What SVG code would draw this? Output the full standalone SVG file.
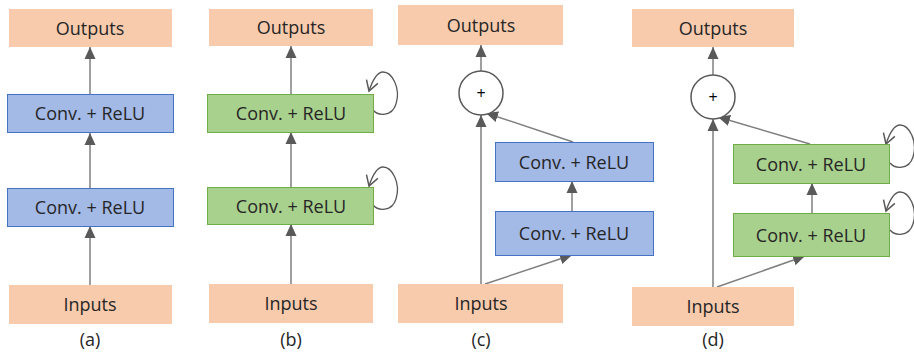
<svg xmlns="http://www.w3.org/2000/svg" width="914" height="356" viewBox="0 0 914 356">
<defs>
<marker id="ah" markerUnits="userSpaceOnUse" markerWidth="12" markerHeight="12" viewBox="0 0 12 12" refX="12" refY="6" orient="auto">
<path d="M0,0.5 L12,6 L0,11.5 z" fill="#595959"/>
</marker>
<marker id="av" markerUnits="userSpaceOnUse" markerWidth="14" markerHeight="14" viewBox="0 0 14 14" refX="12" refY="7" orient="auto">
<path d="M2,1 L12,7 L2,13" fill="none" stroke="#595959" stroke-width="1.5"/>
</marker>
</defs>
<style>
.io{fill:#F8CBAD;stroke:none}
.blue{fill:#A3B9E6;stroke:#4472C4;stroke-width:1}
.green{fill:#A9D18E;stroke:#70AD47;stroke-width:1}
.sum{fill:#fff;stroke:#595959;stroke-width:1.5}
text{font-family:"Open Sans","Liberation Sans",sans-serif;font-size:18px;fill:#262626;text-anchor:middle}
.plus{font-size:16px;fill:#000}
.c{fill:none;stroke:#7F7F7F;stroke-width:1.5;marker-end:url(#ah)}
.loop{fill:none;stroke:#595959;stroke-width:1.3;marker-end:url(#av)}
</style>
<rect width="914" height="356" fill="#fff"/>
<g id="connectors">
<line class="c" x1="90" y1="285" x2="90" y2="226"/>
<line class="c" x1="90" y1="188" x2="90" y2="133"/>
<line class="c" x1="90" y1="94" x2="90" y2="47"/>
<line class="c" x1="291" y1="284" x2="291" y2="224"/>
<line class="c" x1="291" y1="187" x2="291" y2="132"/>
<line class="c" x1="291" y1="94" x2="291" y2="46"/>
<path class="loop" d="M373,110 C378,116 392,117 396,104 C401,88 392,72 383,72 C376,72 372,82 369,91"/>
<path class="loop" d="M373,110 C378,116 392,117 396,104 C401,88 392,72 383,72 C376,72 372,82 369,91" transform="translate(0,95)"/>
<line class="c" x1="481" y1="284" x2="481" y2="115"/>
<line class="c" x1="485" y1="284" x2="572" y2="255"/>
<line class="c" x1="572" y1="211" x2="572" y2="181"/>
<line class="c" x1="573" y1="142" x2="486" y2="113"/>
<line class="c" x1="481" y1="71" x2="481" y2="45"/>
<line class="c" x1="713" y1="287" x2="713" y2="119"/>
<line class="c" x1="717" y1="287" x2="805" y2="256"/>
<line class="c" x1="812" y1="213" x2="812" y2="183"/>
<line class="c" x1="810" y1="144" x2="718" y2="117"/>
<line class="c" x1="713" y1="75" x2="713" y2="47"/>
<path class="loop" d="M373,110 C378,116 392,117 396,104 C401,88 392,72 383,72 C376,72 372,82 369,91" transform="translate(517,53)"/>
<path class="loop" d="M373,110 C378,116 392,117 396,104 C401,88 392,72 383,72 C376,72 372,82 369,91" transform="translate(517,120)"/>
</g>
<g id="a-outputs"><rect class="io" x="9" y="9" width="163" height="38"/><text x="90" y="34.5">Outputs</text></g>
<g id="a-conv1"><rect class="blue" x="7.5" y="94.5" width="166" height="38"/><text x="90" y="120">Conv. + ReLU</text></g>
<g id="a-conv2"><rect class="blue" x="7.5" y="188.5" width="166" height="38"/><text x="90" y="214">Conv. + ReLU</text></g>
<g id="a-inputs"><rect class="io" x="9" y="285" width="163" height="39"/><text x="90" y="311">Inputs</text></g>
<g id="a-label"><text x="90" y="346">(a)</text></g>
<g id="b-outputs"><rect class="io" x="209" y="9" width="164" height="37"/><text x="291" y="34">Outputs</text></g>
<g id="b-conv1"><rect class="green" x="207.5" y="94.5" width="166" height="38"/><text x="291" y="120">Conv. + ReLU</text></g>
<g id="b-conv2"><rect class="green" x="207.5" y="187.5" width="166" height="37"/><text x="291" y="212.5">Conv. + ReLU</text></g>
<g id="b-inputs"><rect class="io" x="209" y="284" width="164" height="39"/><text x="291" y="310">Inputs</text></g>
<g id="b-label"><text x="291" y="346">(b)</text></g>
<g id="c-outputs"><rect class="io" x="398" y="5" width="165" height="40"/><text x="481" y="31.5">Outputs</text></g>
<g id="c-sum"><circle class="sum" cx="481" cy="93" r="22"/><text class="plus" x="481" y="98.5">+</text></g>
<g id="c-conv1"><rect class="blue" x="495.5" y="142.5" width="158" height="39"/><text x="574" y="168.5">Conv. + ReLU</text></g>
<g id="c-conv2"><rect class="blue" x="495.5" y="211.5" width="158" height="44"/><text x="574" y="240">Conv. + ReLU</text></g>
<g id="c-inputs"><rect class="io" x="398" y="284" width="165" height="39"/><text x="481" y="310">Inputs</text></g>
<g id="c-label"><text x="481" y="346">(c)</text></g>
<g id="d-outputs"><rect class="io" x="632" y="9" width="162" height="38"/><text x="713" y="34.5">Outputs</text></g>
<g id="d-sum"><circle class="sum" cx="713" cy="97" r="22"/><text class="plus" x="713" y="102.5">+</text></g>
<g id="d-conv1"><rect class="green" x="733.5" y="144.5" width="156" height="39"/><text x="811" y="170.5">Conv. + ReLU</text></g>
<g id="d-conv2"><rect class="green" x="733.5" y="213.5" width="156" height="43"/><text x="811" y="241.5">Conv. + ReLU</text></g>
<g id="d-inputs"><rect class="io" x="632" y="287" width="162" height="39"/><text x="713" y="313">Inputs</text></g>
<g id="d-label"><text x="713" y="346">(d)</text></g>
</svg>
